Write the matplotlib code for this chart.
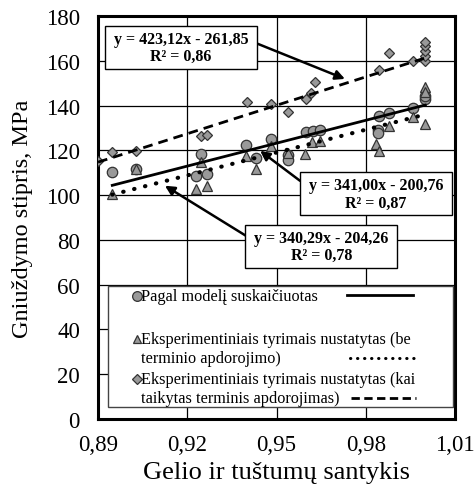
import matplotlib.pyplot as plt
import numpy as np

# Gelio ir tuštumų santykis -> gniuždymo stipris
x_model = [0.8948, 0.9027, 0.9246, 0.9228, 0.9267, 0.9397, 0.9430, 0.9481, 0.9538, 0.9538,
           0.9598, 0.9624, 0.9646, 0.9845, 0.9878, 0.9840, 0.9840, 0.9960, 1.0, 1.0]
y_model = [110.2, 111.7, 118.4, 108.4, 109.4, 122.5, 116.4, 125.1, 117.9, 115.7,
           128.0, 128.5, 129.2, 135.2, 136.7, 129.2, 127.7, 138.8, 142.9, 144.2]

x_exp = [0.8948, 0.9027, 0.9246, 0.9228, 0.9267, 0.9397, 0.9430, 0.9481, 0.9538, 0.9596,
         0.9618, 0.9646, 0.9836, 0.9845, 0.9878, 0.9960, 1.0, 1.0, 1.0]
y_exp = [100.7, 111.5, 114.6, 102.7, 104.2, 117.3, 111.7, 122.1, 118.7, 118.4,
         123.9, 124.3, 122.8, 119.8, 130.7, 134.7, 131.8, 148.1, 145.9]

x_term = [0.8900, 0.8948, 0.9027, 0.9246, 0.9265, 0.9400, 0.9480, 0.9538, 0.9600, 0.9616,
          0.9630, 0.9845, 0.9878, 0.9960, 1.0, 1.0, 1.0, 1.0, 1.0]
y_term = [115.4, 119.1, 119.8, 126.3, 127.0, 141.7, 140.7, 137.2, 142.9, 145.6,
          150.4, 155.9, 163.5, 159.9, 160.0, 162.3, 164.5, 166.5, 168.2]

# tiesinės regresijos koeficientai (a, b)
fit_model = (341.00, -200.76)
fit_exp = (340.29, -204.26)
fit_term = (423.12, -261.85)

plt.rcParams['font.family'] = ['Liberation Serif', 'DejaVu Serif']

fig = plt.figure(figsize=(4.76, 4.89), dpi=100)
ax = fig.add_axes([0.2059, 0.1411, 0.75, 0.8241])

ax.set_xlim(0.89, 1.01)
ax.set_ylim(0, 180)
ax.set_xticks([0.89, 0.92, 0.95, 0.98, 1.01])
ax.set_xticklabels(['0,89', '0,92', '0,95', '0,98', '1,01'])
ax.set_yticks(np.arange(0, 181, 20))
ax.grid(True, color='black', linewidth=0.9)
ax.set_axisbelow(True)
ax.tick_params(axis='x', length=0, labelsize=16.5, pad=11)
ax.tick_params(axis='y', length=0, labelsize=16.5, pad=13)
for s in ax.spines.values():
    s.set_linewidth(2.2)

mk = dict(linestyle='none', markerfacecolor='#999999', markeredgecolor='#333333',
          markeredgewidth=0.9, zorder=4)
ax.plot(x_model, y_model, marker='o', markersize=7.5, **mk)
ax.plot(x_exp, y_exp, marker='^', markersize=7, **mk)
ax.plot(x_term, y_term, marker='D', markersize=5.5, **mk)


def trend(xs, coef):
    xx = np.array([min(xs), max(xs)])
    return xx, coef[0] * xx + coef[1]


xx, yy = trend(x_model, fit_model)
ax.plot(xx, yy, color='black', linewidth=2, zorder=5)
xx, yy = trend(x_exp, fit_exp)
ax.plot(xx, yy, color='black', linewidth=3, linestyle=(0, (0.1, 2.6)),
        dash_capstyle='round', zorder=5)
xx, yy = trend(x_term, fit_term)
ax.plot(xx, yy, color='black', linewidth=2, linestyle=(0, (3.5, 2.2)), zorder=5)

box = dict(boxstyle='square,pad=0.3', facecolor='white', edgecolor='black', linewidth=1)
arr = dict(arrowstyle='-|>', color='black', lw=1.8, mutation_scale=14, shrinkA=0, shrinkB=0)

labels = [
    (' y = 423,12x - 261,85 \nR² = 0,86', (0.9179, 166.1), (0.9431, 167.9), (0.973, 151.9)),
    (' y = 341,00x - 200,76 \nR² = 0,87', (0.9834, 100.6), (0.9579, 106.4), (0.9445, 119.8)),
    (' y = 340,29x - 204,26 \nR² = 0,78', (0.9651, 77.0), (0.9405, 81.2), (0.9125, 104.2)),
]
for txt, pos, a0, a1 in labels:
    ax.annotate('', xy=a1, xytext=a0, arrowprops=arr, zorder=6)
    ax.text(pos[0], pos[1], txt, ha='center', va='center', fontsize=11.5, fontweight='bold',
            bbox=box, zorder=7, linespacing=1.1)

# legenda
tr = ax.transAxes
ax.add_patch(plt.Rectangle((0.028, 0.030), 0.966, 0.300, transform=tr, facecolor='white',
                           edgecolor='#444444', linewidth=1, zorder=6))
legend_rows = [
    ('o', 7, '-', 2, 0.304, 'Pagal modelį suskaičiuotas', None, 0.697, 0.882),
    ('^', 6, (0, (0.1, 2.2)), 2.2, 0.1985, 'Eksperimentiniais tyrimais nustatytas (be',
     'terminio apdorojimo)', 0.706, 0.892),
    ('D', 5, (0, (3, 1.6)), 2, 0.099, 'Eksperimentiniais tyrimais nustatytas (kai',
     'taikytas terminis apdorojimas)', 0.710, 0.892),
]
for m, ms, ls, lw, yy0, t1, t2, lx0, lx1 in legend_rows:
    ax.plot([0.108], [yy0], transform=tr, marker=m, markersize=ms, linestyle='none',
            markerfacecolor='#999999', markeredgecolor='#333333', markeredgewidth=0.9,
            zorder=7, clip_on=False)
    ax.text(0.121, yy0, t1, transform=tr, fontsize=11.7, va='center', ha='left', zorder=7)
    if t2 is None:
        ax.plot([lx0, lx1], [yy0 + 0.004] * 2, transform=tr, color='black', linewidth=lw,
                linestyle=ls, zorder=7)
    else:
        y2 = yy0 - 0.046
        ax.text(0.121, y2, t2, transform=tr, fontsize=11.7, va='center', ha='left', zorder=7)
        ax.plot([lx0, lx1], [y2] * 2, transform=tr, color='black', linewidth=lw,
                linestyle=ls, dash_capstyle='round' if m == '^' else 'butt', zorder=7)

ax.set_xlabel('Gelio ir tuštumų santykis', fontsize=19, labelpad=4)
ax.set_ylabel('Gniuždymo stipris, MPa', fontsize=17.5, labelpad=9)

fig.savefig('out.png', dpi=100)
